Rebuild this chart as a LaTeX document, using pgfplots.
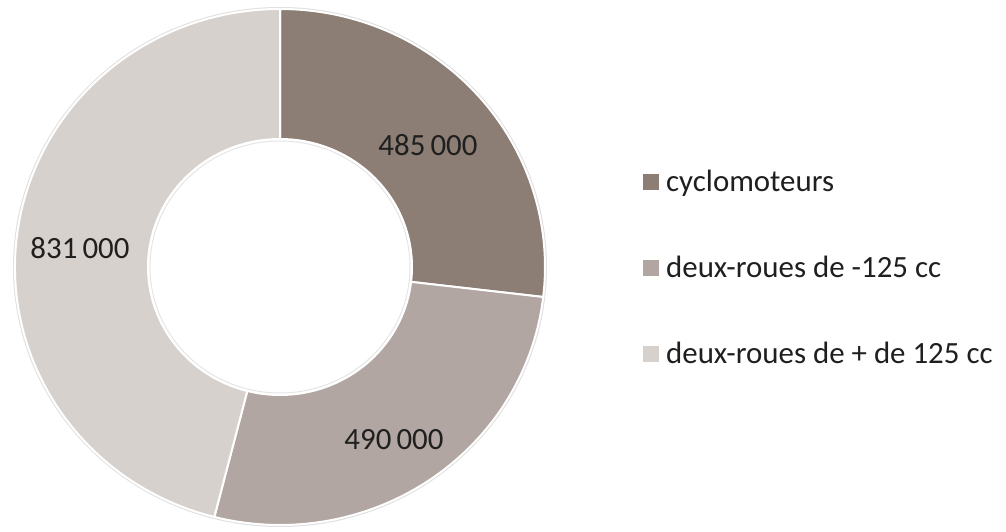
\documentclass[border=0pt]{standalone}
\usepackage{pgfplots}
\pgfplotsset{compat=1.18}
\usepackage{pgfplotstable}
\usepackage{fontspec}
\setmainfont{Carlito}
\usetikzlibrary{calc}

\definecolor{cyclo}{RGB}{140,126,117}
\definecolor{moins}{RGB}{177,166,161}
\definecolor{plus}{RGB}{215,209,205}

% parc de deux-roues, en milliers
\pgfplotstableread{
cat val
cyclo 485
moins 490
plus 831
}\parc

\begin{document}
\begin{tikzpicture}
\useasboundingbox (0,0) rectangle (1006bp,532bp);
\pgfplotstablegetelem{0}{val}\of\parc \let\va\pgfplotsretval
\pgfplotstablegetelem{1}{val}\of\parc \let\vb\pgfplotsretval
\pgfplotstablegetelem{2}{val}\of\parc \let\vc\pgfplotsretval
\pgfmathsetmacro\tot{\va+\vb+\vc}
\pgfmathsetmacro\aA{90}
\pgfmathsetmacro\aB{90-360*(\va/\tot)}
\pgfmathsetmacro\aC{\aB-360*(\vb/\tot)}
\pgfmathsetmacro\aD{-270}
\def\R{265bp and 258bp}
\def\r{132bp and 128bp}
\begin{axis}[
  at={(0,0)}, anchor=south west,
  hide axis, scale only axis, clip=false,
  x=1bp, y=1bp, xmin=0, xmax=1006, ymin=0, ymax=532,
  legend style={at={(axis cs:640,366)}, anchor=north west, draw=none, fill=none,
    font=\fontsize{31}{36}\selectfont, row sep=59bp, text=black!88},
  legend cell align=left,
  legend image code/.code={\fill[#1, draw=none] (0bp,-8bp) rectangle (16bp,8bp); \path (21bp,0);},
]
\addlegendimage{fill=cyclo, draw=none}
\addlegendentry{cyclomoteurs}
\addlegendimage{fill=moins, draw=none}
\addlegendentry{deux-roues de -125 cc}
\addlegendimage{fill=plus, draw=none}
\addlegendentry{deux-roues de + de 125 cc}

\coordinate (c) at (axis cs:280,265);
\draw[black!12, line width=2bp] (c) ellipse[x radius=266bp, y radius=259bp];
\filldraw[fill=cyclo, draw=white, line width=2bp]
  ($(c)+(\aA:\R)$) arc[start angle=\aA, end angle=\aB, x radius=265bp, y radius=258bp]
  -- ($(c)+(\aB:\r)$) arc[start angle=\aB, end angle=\aA, x radius=132bp, y radius=128bp] -- cycle;
\filldraw[fill=moins, draw=white, line width=2bp]
  ($(c)+(\aB:\R)$) arc[start angle=\aB, end angle=\aC, x radius=265bp, y radius=258bp]
  -- ($(c)+(\aC:\r)$) arc[start angle=\aC, end angle=\aB, x radius=132bp, y radius=128bp] -- cycle;
\filldraw[fill=plus, draw=white, line width=2bp]
  ($(c)+(\aC:\R)$) arc[start angle=\aC, end angle=\aD, x radius=265bp, y radius=258bp]
  -- ($(c)+(\aD:\r)$) arc[start angle=\aD, end angle=\aC, x radius=132bp, y radius=128bp] -- cycle;
\draw[black!10, line width=1bp] (c) ellipse[x radius=130bp, y radius=126bp];

\node[font=\fontsize{31}{36}\selectfont, text=black!88] at (axis cs:428,387) {485\,000};
\node[font=\fontsize{31}{36}\selectfont, text=black!88] at (axis cs:394,92) {490\,000};
\node[font=\fontsize{31}{36}\selectfont, text=black!88] at (axis cs:80,284) {831\,000};
\end{axis}
\end{tikzpicture}
\end{document}
